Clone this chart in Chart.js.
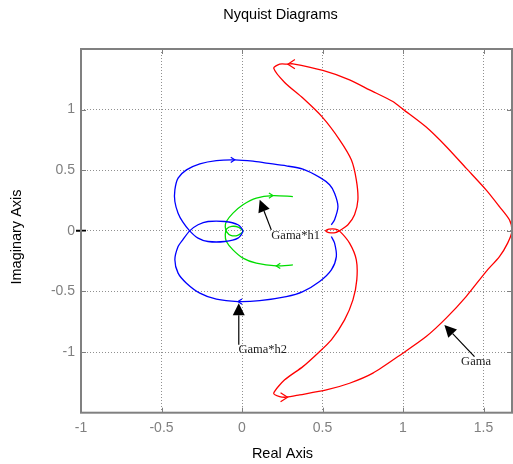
<!DOCTYPE html>
<html><head><meta charset="utf-8">
<script src="https://cdn.jsdelivr.net/npm/chart.js@4/dist/chart.umd.min.js"></script>
<style>html,body{margin:0;padding:0;background:#fff}#wrap{width:513px;height:464px}</style>
</head><body><div id="wrap"><canvas id="c" width="513" height="464"></canvas></div>
<script>
// ---- data ----
const xTicks = [-1, -0.5, 0, 0.5, 1, 1.5];
const yTicks = [-1, -0.5, 0, 0.5, 1];

// Gama (red)
const gamaRe = [0.605,0.658,0.699,0.720,0.710,0.679,0.606,0.499,0.378,0.265,0.197,0.234,0.285,0.316,0.502,0.668,0.792,0.937,0.999,1.144,1.268,1.392,1.516,1.599,1.661,1.677,1.650,1.599,1.516,1.392,1.268,1.144,0.999,0.813,0.668,0.524,0.358,0.275,0.234,0.197,0.265,0.378,0.471,0.555,0.637,0.689,0.713,0.710,0.668,0.605,0.580,0.540,0.519,0.540,0.580,0.605];
const gamaIm = [0.000,0.050,0.132,0.256,0.421,0.586,0.751,0.938,1.095,1.224,1.342,1.375,1.375,1.378,1.323,1.246,1.163,1.067,1.004,0.856,0.696,0.517,0.338,0.200,0.091,0.000,-0.101,-0.212,-0.336,-0.542,-0.720,-0.872,-1.009,-1.174,-1.257,-1.312,-1.353,-1.372,-1.367,-1.339,-1.229,-1.120,-1.009,-0.899,-0.734,-0.569,-0.404,-0.239,-0.101,0.000,0.015,0.014,0.000,-0.014,-0.015,0.000];

// Gama*h2 (blue)
const h2Re = [0.555,0.575,0.596,0.575,0.544,0.488,0.378,0.275,0.151,0.068,-0.045,-0.159,-0.262,-0.345,-0.397,-0.417,-0.417,-0.397,-0.368,-0.325,-0.273,-0.211,-0.107,-0.025,0.006,-0.025,-0.107,-0.211,-0.273,-0.325,-0.368,-0.397,-0.417,-0.397,-0.345,-0.262,-0.159,-0.025,0.110,0.275,0.378,0.482,0.555,0.586,0.575,0.555];
const h2Im = [0.050,0.091,0.200,0.311,0.380,0.437,0.509,0.536,0.559,0.575,0.586,0.580,0.553,0.503,0.435,0.338,0.242,0.146,0.074,0.000,-0.060,-0.088,-0.088,-0.060,0.000,0.050,0.077,0.077,0.050,0.000,-0.074,-0.130,-0.239,-0.349,-0.432,-0.514,-0.564,-0.583,-0.575,-0.542,-0.501,-0.418,-0.322,-0.212,-0.101,-0.047];

// Gama*h1 (green)
const h1Re = [0.316,0.192,0.089,0.006,-0.056,-0.097,-0.104,-0.095,-0.070,-0.027,0.006,-0.020,-0.064,-0.095,-0.104,-0.097,-0.056,0.006,0.089,0.213,0.316];
const h1Im = [0.283,0.291,0.270,0.215,0.146,0.077,0.033,-0.008,-0.037,-0.037,-0.004,0.029,0.037,0.017,-0.033,-0.088,-0.157,-0.225,-0.267,-0.289,-0.281];

// critical point
const critRe = [-1];
const critIm = [0];

// text annotations with arrows
const annText   = ['Gama*h1', 'Gama*h2', 'Gama'];
const annTipRe  = [0.110, -0.020, 1.257];
const annTipIm  = [0.256, -0.597, -0.776];
const annTailRe = [0.182, -0.020, 1.444];
const annTailIm = [0.008, -0.940, -1.037];
const annTextRe = [0.182, -0.022, 1.361];
const annTextIm = [-0.040, -0.980, -1.078];

// direction arrowheads on the curves
const dirRe    = [0.285, 0.283, -0.045, -0.025, 0.192, 0.213];
const dirIm    = [1.375, -1.372, 0.586, -0.583, 0.291, -0.289];
const dirSign  = [-1, 1, 1, -1, 1, -1];
const dirColor = ['#ff0000','#ff0000','#0000ff','#0000ff','#00dd00','#00dd00'];
const dirSize  = [7, 7, 4, 4, 4, 4];

const pts = (re, im) => re.map((v, i) => ({x: v, y: im[i]}));

const deco = {
  id: 'deco',
  afterDatasetsDraw(chart) {
    const {ctx, chartArea: a, scales: {x, y}} = chart;
    ctx.save();
    // inward ticks
    ctx.strokeStyle = '#808080'; ctx.lineWidth = 1;
    ctx.beginPath();
    xTicks.forEach(v => { const px = Math.round(x.getPixelForValue(v)) + 0.5;
      ctx.moveTo(px, a.bottom); ctx.lineTo(px, a.bottom - 5);
      ctx.moveTo(px, a.top); ctx.lineTo(px, a.top + 5); });
    yTicks.forEach(v => { const py = Math.round(y.getPixelForValue(v)) + 0.5;
      ctx.moveTo(a.left, py); ctx.lineTo(a.left + 5, py);
      ctx.moveTo(a.right, py); ctx.lineTo(a.right - 5, py); });
    ctx.stroke();
    // box
    ctx.lineWidth = 2; ctx.strokeStyle = '#808080';
    ctx.strokeRect(a.left, a.top, a.right - a.left, a.bottom - a.top);
    // curve arrowheads
    dirRe.forEach((v, i) => {
      const px = x.getPixelForValue(v), py = y.getPixelForValue(dirIm[i]);
      const s = dirSign[i], L = dirSize[i];
      ctx.strokeStyle = dirColor[i]; ctx.lineWidth = 1.2;
      ctx.beginPath();
      ctx.moveTo(px - s * L, py - L * 0.65); ctx.lineTo(px, py); ctx.lineTo(px - s * L, py + L * 0.65);
      ctx.stroke();
    });
    // annotation arrows
    annText.forEach((t, i) => {
      const tx = x.getPixelForValue(annTipRe[i]), ty = y.getPixelForValue(annTipIm[i]);
      const bx = x.getPixelForValue(annTailRe[i]), by = y.getPixelForValue(annTailIm[i]);
      const ang = Math.atan2(ty - by, tx - bx);
      const L = 12, W = 6;
      const hx = tx - L * Math.cos(ang), hy = ty - L * Math.sin(ang);
      ctx.strokeStyle = '#000'; ctx.lineWidth = 1.2;
      ctx.beginPath(); ctx.moveTo(bx, by); ctx.lineTo(hx, hy); ctx.stroke();
      ctx.fillStyle = '#000';
      ctx.beginPath();
      ctx.moveTo(tx, ty);
      ctx.lineTo(hx + W * Math.sin(ang), hy - W * Math.cos(ang));
      ctx.lineTo(hx - W * Math.sin(ang), hy + W * Math.cos(ang));
      ctx.closePath(); ctx.fill();
      ctx.font = '12.5px "Liberation Serif", "Times New Roman", serif';
      ctx.textAlign = 'left'; ctx.textBaseline = 'middle';
      ctx.fillStyle = '#222';
      ctx.fillText(t, x.getPixelForValue(annTextRe[i]), y.getPixelForValue(annTextIm[i]));
    });
    ctx.restore();
  },
  afterDraw(chart) {
    const {ctx} = chart;
    ctx.save();
    ctx.fillStyle = '#000';
    ctx.font = '14.5px "Liberation Sans", Arial, sans-serif';
    ctx.textAlign = 'center'; ctx.textBaseline = 'alphabetic';
    ctx.fillText('Nyquist Diagrams', 280.5, 19);
    ctx.fillText('Real Axis', 282.5, 457.5);
    ctx.translate(21, 237); ctx.rotate(-Math.PI / 2);
    ctx.fillText('Imaginary Axis', 0, 0);
    ctx.restore();
  }
};

const tickFont = {family: '"Liberation Sans", Arial, sans-serif', size: 14};

new Chart(document.getElementById('c'), {
  type: 'scatter',
  data: {
    datasets: [
      {label: 'Gama', data: pts(gamaRe, gamaIm), showLine: true, borderColor: '#ff0000', borderWidth: 1.3, pointRadius: 0, tension: 0.25},
      {label: 'Gama*h2', data: pts(h2Re, h2Im), showLine: true, borderColor: '#0000ff', borderWidth: 1.3, pointRadius: 0, tension: 0.25},
      {label: 'Gama*h1', data: pts(h1Re, h1Im), showLine: true, borderColor: '#00dd00', borderWidth: 1.3, pointRadius: 0, tension: 0.25},
      {label: 'crit', data: pts(critRe, critIm), showLine: false, pointStyle: 'cross', pointRadius: 5, borderColor: '#000', borderWidth: 2, clip: false}
    ]
  },
  options: {
    responsive: false, animation: false,
    layout: {autoPadding: false, padding: {top: 49, right: 1, left: 0, bottom: 0}},
    plugins: {legend: {display: false}, tooltip: {enabled: false}, title: {display: false}},
    scales: {
      x: {
        type: 'linear', min: -1, max: 1.677,
        afterBuildTicks: s => { s.ticks = xTicks.map(v => ({value: v})); },
        afterFit: s => { s.height = 51.3; s.paddingLeft = 0; s.paddingRight = 0; },
        grid: {color: '#909090', lineWidth: 1, drawTicks: false},
        border: {display: false, dash: [1, 2]},
        ticks: {font: tickFont, color: '#808080', padding: 7, maxRotation: 0, callback: v => String(v)}
      },
      y: {
        type: 'linear', min: -1.5, max: 1.5,
        afterBuildTicks: s => { s.ticks = yTicks.map(v => ({value: v})); },
        afterFit: s => { s.width = 81; s.paddingTop = 0; s.paddingBottom = 0; },
        grid: {color: '#909090', lineWidth: 1, drawTicks: false},
        border: {display: false, dash: [1, 2]},
        ticks: {font: tickFont, color: '#808080', padding: 6, callback: v => String(v)}
      }
    }
  },
  plugins: [deco]
});
</script></body></html>
